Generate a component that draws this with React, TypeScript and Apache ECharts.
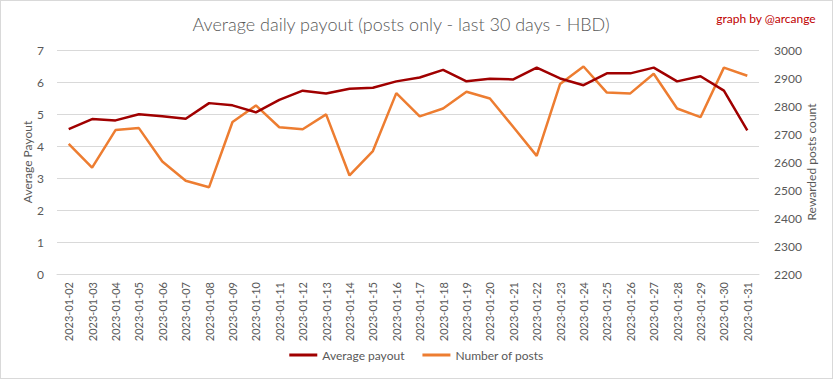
import React, { useEffect, useRef } from "react";
import * as echarts from "echarts";

const categories = [
  "2023-01-02", "2023-01-03", "2023-01-04", "2023-01-05", "2023-01-06",
  "2023-01-07", "2023-01-08", "2023-01-09", "2023-01-10", "2023-01-11",
  "2023-01-12", "2023-01-13", "2023-01-14", "2023-01-15", "2023-01-16",
  "2023-01-17", "2023-01-18", "2023-01-19", "2023-01-20", "2023-01-21",
  "2023-01-22", "2023-01-23", "2023-01-24", "2023-01-25", "2023-01-26",
  "2023-01-27", "2023-01-28", "2023-01-29", "2023-01-30", "2023-01-31",
];

const averagePayout = [
  4.53, 4.84, 4.80, 4.99, 4.93, 4.85, 5.34, 5.27, 5.05, 5.44,
  5.73, 5.64, 5.79, 5.82, 6.02, 6.14, 6.38, 6.02, 6.10, 6.08,
  6.45, 6.11, 5.90, 6.27, 6.27, 6.45, 6.02, 6.18, 5.73, 4.49,
];

const numberOfPosts = [
  2665, 2580, 2714, 2721, 2602, 2533, 2510, 2743, 2802, 2724,
  2717, 2770, 2552, 2639, 2846, 2763, 2791, 2851, 2827, 2725,
  2622, 2879, 2941, 2848, 2845, 2915, 2791, 2760, 2937, 2908,
];

const FONT = "Lato, 'Open Sans', sans-serif";
const GRAY = "#595959";

export default function App() {
  const ref = useRef<HTMLDivElement>(null);

  useEffect(() => {
    document.body.style.margin = "0";
    const chart = echarts.init(ref.current!, null, { renderer: "svg" });
    chart.setOption({
      animation: false,
      backgroundColor: "#ffffff",
      textStyle: { fontFamily: FONT },
      title: [
        {
          text: "Average daily payout (posts only - last 30 days - HBD)",
          left: 395,
          top: 9,
          textAlign: "center",
          textStyle: { fontFamily: FONT, fontSize: 18, fontWeight: 300, color: GRAY },
        },
        {
          text: "graph by @arcange",
          right: 11,
          top: 6,
          textStyle: { fontFamily: FONT, fontSize: 12, fontWeight: "normal", color: "#c00000" },
        },
      ],
      legend: {
        bottom: 12,
        left: "center",
        itemWidth: 28,
        itemHeight: 3,
        itemGap: 18,
        icon: "rect",
        textStyle: { fontFamily: FONT, fontSize: 12, color: GRAY },
        data: ["Average payout", "Number of posts"],
      },
      grid: { left: 56, right: 73, top: 49, bottom: 104 },
      xAxis: {
        type: "category",
        data: categories,
        boundaryGap: true,
        axisLine: { show: true, lineStyle: { color: "#d9d9d9" } },
        axisTick: { show: false },
        axisLabel: { rotate: 90, color: GRAY, fontSize: 11, fontFamily: FONT, margin: 8, interval: 0 },
      },
      yAxis: [
        {
          type: "value",
          min: 0,
          max: 7,
          interval: 1,
          name: "Average Payout",
          nameLocation: "middle",
          nameGap: 24,
          nameMoveOverlap: false,
          nameTextStyle: { color: GRAY, fontSize: 12, fontFamily: FONT },
          axisLine: { show: false },
          axisTick: { show: false },
          axisLabel: { color: GRAY, fontSize: 12, fontFamily: FONT, margin: 13 },
          splitLine: { lineStyle: { color: "#d9d9d9", width: 1 } },
        },
        {
          type: "value",
          min: 2200,
          max: 3000,
          interval: 100,
          name: "Rewarded posts count",
          nameLocation: "middle",
          nameGap: 46,
          nameRotate: 90,
          nameMoveOverlap: false,
          nameTextStyle: { color: GRAY, fontSize: 12, fontFamily: FONT },
          axisLine: { show: false },
          axisTick: { show: false },
          axisLabel: {
            color: GRAY,
            fontSize: 12,
            fontFamily: FONT,
            margin: 15,
            formatter: (v: number) => String(v),
          },
          splitLine: { show: false },
        },
      ],
      series: [
        {
          name: "Average payout",
          type: "line",
          yAxisIndex: 0,
          data: averagePayout,
          showSymbol: false,
          symbol: "none",
          lineStyle: { color: "#a00000", width: 2.5 },
          itemStyle: { color: "#a00000" },
          z: 3,
        },
        {
          name: "Number of posts",
          type: "line",
          yAxisIndex: 1,
          data: numberOfPosts,
          showSymbol: false,
          symbol: "none",
          lineStyle: { color: "#ed7d31", width: 2.5 },
          itemStyle: { color: "#ed7d31" },
          z: 2,
        },
      ],
    });
    return () => chart.dispose();
  }, []);

  return (
    <div
      ref={ref}
      style={{
        position: "absolute",
        left: 0,
        top: 0,
        width: 833,
        height: 379,
        boxSizing: "border-box",
        border: "1px solid #d9d9d9",
      }}
    />
  );
}
